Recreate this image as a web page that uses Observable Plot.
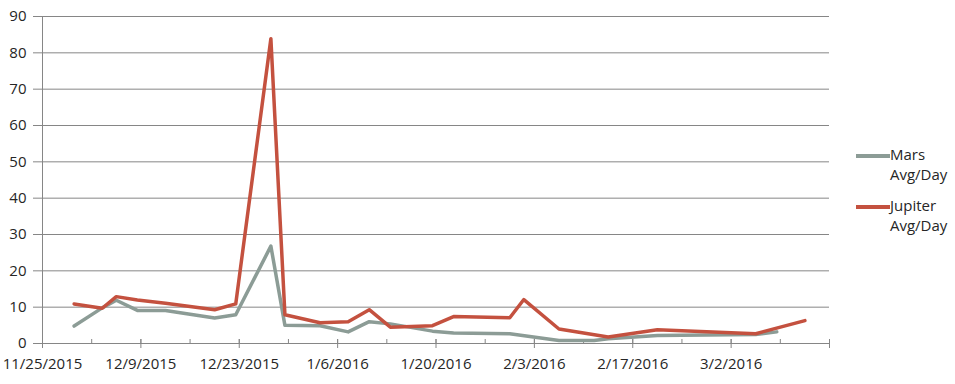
<!DOCTYPE html>
<html>
<head>
<meta charset="utf-8">
<script src="https://cdn.jsdelivr.net/npm/d3@7"></script>
<script src="https://cdn.jsdelivr.net/npm/@observablehq/plot@0.6"></script>
<style>
  body { margin: 0; background: #fff; }
  #wrap { position: relative; width: 955px; height: 384px; font-family: "Open Sans", sans-serif; }
  #legend { position: absolute; left: 856px; top: 145px; font-size: 15px; line-height: 19.5px; color: #262626; }
  .item { display: flex; align-items: flex-start; margin-bottom: 12px; }
  .sw { width: 34px; height: 3.5px; margin-top: 9px; flex: none; }
</style>
</head>
<body>
<div id="wrap"></div>
<script>
// ---- data ----
const seriesNames = ["Mars Avg/Day", "Jupiter Avg/Day"];
const seriesColors = ["#8C9C96", "#C4513F"];

const marsDates = ["2015-11-29","2015-12-03","2015-12-05","2015-12-08","2015-12-12","2015-12-19","2015-12-22","2015-12-27","2015-12-29","2016-01-03","2016-01-07","2016-01-10","2016-01-13","2016-01-19","2016-01-22","2016-01-30","2016-02-06","2016-02-11","2016-02-13","2016-02-20","2016-03-05","2016-03-08"];
const marsValues = [4.8, 9.8, 11.9, 9.1, 9.1, 7.0, 7.9, 26.8, 5.0, 4.9, 3.2, 6.0, 5.4, 3.4, 2.9, 2.7, 0.8, 0.8, 1.3, 2.2, 2.5, 3.2];

const jupiterDates = ["2015-11-29","2015-12-03","2015-12-05","2015-12-08","2015-12-12","2015-12-19","2015-12-22","2015-12-27","2015-12-29","2016-01-03","2016-01-07","2016-01-10","2016-01-13","2016-01-19","2016-01-22","2016-01-30","2016-02-01","2016-02-06","2016-02-13","2016-02-20","2016-03-05","2016-03-12"];
const jupiterValues = [10.9, 9.7, 12.9, 12.0, 11.1, 9.3, 10.9, 83.9, 7.9, 5.7, 6.0, 9.3, 4.5, 4.9, 7.4, 7.1, 12.1, 4.0, 1.8, 3.8, 2.7, 6.3];

const xTickLabels = ["11/25/2015","12/9/2015","12/23/2015","1/6/2016","1/20/2016","2/3/2016","2/17/2016","3/2/2016"];
const xDomainLabels = ["11/25/2015","3/16/2016"];
const yTicks = [0, 10, 20, 30, 40, 50, 60, 70, 80, 90];

// ---- build ----
const parseISO = d3.utcParse("%Y-%m-%d");
const parseMDY = d3.utcParse("%m/%d/%Y");
const HALF_DAY = 12 * 3600 * 1000;

const rows = [];
marsDates.forEach((d, i) => rows.push({series: seriesNames[0], date: parseISO(d), value: marsValues[i]}));
jupiterDates.forEach((d, i) => rows.push({series: seriesNames[1], date: parseISO(d), value: jupiterValues[i]}));

const labelDates = xTickLabels.map(parseMDY);
const domain = xDomainLabels.map(parseMDY);
const majorTicks = [...labelDates, domain[1]];
const minorTicks = d3.utcWednesday.range(domain[0], new Date(+domain[1] + 1));
const labelOf = new Map(labelDates.map((d, i) => [+d, xTickLabels[i]]));

const gray = "#868686";
const textColor = "#262626";

const chart = Plot.plot({
  width: 955,
  height: 384,
  marginLeft: 42,
  marginRight: 126,
  marginTop: 16,
  marginBottom: 41,
  style: {fontFamily: "Open Sans, sans-serif", fontSize: "15px", background: "white", color: textColor},
  x: {type: "utc", domain},
  y: {domain: [0, 90]},
  color: {domain: seriesNames, range: seriesColors},
  marks: [
    Plot.gridY(yTicks, {stroke: gray, strokeOpacity: 1}),
    Plot.axisY(yTicks, {tickSize: 9, tickPadding: 7, stroke: gray, fill: textColor, label: null}),
    Plot.ruleX([domain[0]], {stroke: gray}),
    Plot.ruleY([0], {stroke: gray}),
    Plot.axisX(minorTicks, {tickSize: 4, dy: -4, stroke: gray, tickFormat: () => "", label: null}),
    Plot.axisX(majorTicks, {tickSize: 9, dy: -4, tickPadding: 10, stroke: gray, fill: textColor,
      tickFormat: d => labelOf.get(+d) || "", label: null}),
    Plot.line(rows, {
      x: d => new Date(+d.date + HALF_DAY),
      y: "value",
      z: "series",
      stroke: "series",
      strokeWidth: 3.5,
      strokeLinejoin: "round"
    })
  ]
});

const wrap = document.getElementById("wrap");
wrap.appendChild(chart);

const legend = document.createElement("div");
legend.id = "legend";
seriesNames.forEach((name, i) => {
  const item = document.createElement("div");
  item.className = "item";
  const sw = document.createElement("div");
  sw.className = "sw";
  sw.style.background = seriesColors[i];
  const label = document.createElement("div");
  const parts = name.split(" ");
  label.innerHTML = parts[0] + "<br>" + parts.slice(1).join(" ");
  item.appendChild(sw);
  item.appendChild(label);
  legend.appendChild(item);
});
wrap.appendChild(legend);
</script>
</body>
</html>
